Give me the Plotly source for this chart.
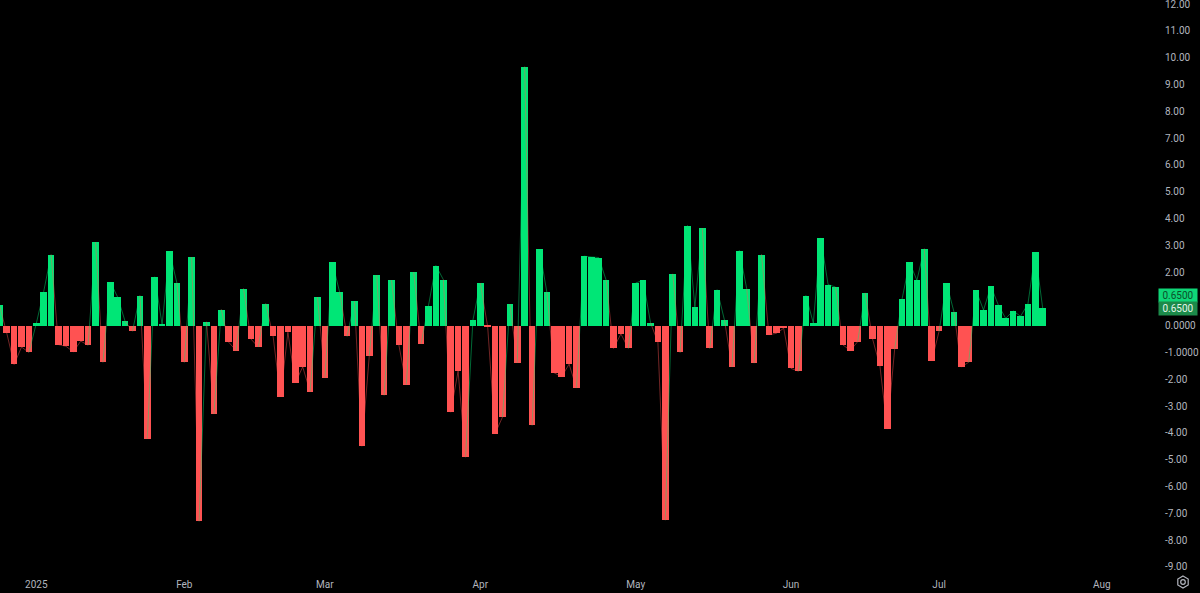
import math
import pandas as pd
import plotly.graph_objects as go

# ---- data (daily % change, one value per trading day starting 2024-12-24) ----
holidays = ["2024-12-25", "2025-01-01", "2025-01-09", "2025-01-20", "2025-02-17",
            "2025-04-18", "2025-05-26", "2025-06-19", "2025-07-04"]
values = [
    0.78, -0.27, -1.45, -0.80, -1.00, 0.08, 1.27, 2.65, -0.71, -0.77,
    -0.98, -0.58, -0.73, 3.11, -1.37, 1.62, 1.06, 0.16, -0.21, 1.12,
    -4.22, 1.82, 0.04, 2.77, 1.59, -1.37, 2.56, -7.30, 0.14, -3.30,
    0.60, -0.62, -0.93, 1.38, -0.50, -0.80, 0.82, -0.40, -2.66, -0.25,
    -2.14, -1.54, -2.46, 1.06, -1.94, 2.36, 1.24, -0.40, 0.90, -4.50,
    -1.12, 1.88, -2.60, 1.69, -0.73, -2.20, 2.00, -0.67, 0.75, 2.24,
    1.72, -3.23, -1.70, -4.91, 0.20, 1.59, -0.05, -4.03, -3.41, 0.80,
    -1.39, 9.66, -3.72, 2.84, 1.24, -1.77, -1.90, -1.44, -2.33, 2.59,
    2.56, 2.54, 1.70, -0.85, -0.31, -0.85, 1.59, 1.69, 0.11, -0.62,
    -7.26, 1.93, -1.00, 3.73, 0.70, 3.64, -0.85, 1.34, 0.20, -1.54,
    2.80, 1.38, -1.40, 2.65, -0.34, -0.29, -0.10, -1.60, -1.70, 1.12,
    0.10, 3.27, 1.53, 1.44, -0.72, -0.93, -0.60, 1.22, -0.49, -1.50,
    -3.86, -0.87, 1.00, 2.36, 1.69, 2.87, -1.32, -0.21, 1.59, 0.52,
    -1.54, -1.37, 1.31, 0.58, 1.47, 0.77, 0.27, 0.55, 0.35, 0.80,
    2.74, 0.65,
]
month_labels = ["2025", "Feb", "Mar", "Apr", "May", "Jun", "Jul", "Aug"]
y_tick_vals = [12, 11, 10, 9, 8, 7, 6, 5, 4, 3, 2, 0, -1, -2, -3, -4, -5, -6, -7, -8, -9]
y_tick_text = ["12.00", "11.00", "10.00", "9.00", "8.00", "7.00", "6.00", "5.00", "4.00",
               "3.00", "2.00", "0.0000", "-1.0000", "-2.00", "-3.00", "-4.00", "-5.00",
               "-6.00", "-7.00", "-8.00", "-9.00"]
last_label = "0.6500"

# ---- styles ----
GREEN = "#00E676"
RED = "#FF5252"
LINE_G = "rgba(0,230,118,0.45)"
LINE_R = "rgba(255,82,82,0.45)"
TEXT = "#b2b5be"
FONT = "Roboto"

dates = pd.bdate_range("2024-12-24", "2025-08-29", freq="C", holidays=holidays)
idx = list(range(len(values)))

# first trading bar of each month (for the time axis labels)
tick_pos = []
for m in range(1, 9):
    for i, d in enumerate(dates):
        if d.year == 2025 and d.month == m:
            tick_pos.append(i)
            break

colors = [GREEN if v >= 0 else RED for v in values]

# connecting line, each segment coloured by the bar it ends on
gx, gy, rx, ry = [], [], [], []
for j in range(1, len(values)):
    tx, ty = (gx, gy) if values[j] >= 0 else (rx, ry)
    tx += [idx[j - 1], idx[j], None]
    ty += [values[j - 1], values[j], None]

fig = go.Figure()
fig.add_trace(go.Bar(x=idx, y=values, marker=dict(color=colors, line=dict(width=0)),
                     width=0.88, hoverinfo="skip", showlegend=False))
fig.add_trace(go.Scatter(x=gx, y=gy, mode="lines", line=dict(color=LINE_G, width=1),
                         hoverinfo="skip", showlegend=False))
fig.add_trace(go.Scatter(x=rx, y=ry, mode="lines", line=dict(color=LINE_R, width=1),
                         hoverinfo="skip", showlegend=False))

# pixel geometry: plot area 1157 x 568, 7.4 px per bar, 26.8 px per unit
W, H = 1157, 568
px_per_bar = 7.4
x0 = 0.7 / px_per_bar
x1 = x0 + W / px_per_bar
px_per_unit = 26.8
zero_px = 325.6
y1 = zero_px / px_per_unit
y0 = -(H - zero_px) / px_per_unit

fig.update_layout(
    width=1200, height=593,
    margin=dict(l=0, r=1200 - W, t=0, b=593 - H, autoexpand=False),
    paper_bgcolor="#000000", plot_bgcolor="#000000",
    bargap=0,
    font=dict(family=FONT, size=10, color=TEXT),
    xaxis=dict(range=[x0, x1], tickvals=tick_pos, ticktext=month_labels,
               showgrid=False, zeroline=False, showline=False, ticks="",
               ticklabelstandoff=9, ticklabeloverflow="allow",
               tickfont=dict(size=10, color=TEXT, family=FONT)),
    yaxis=dict(range=[y0, y1], side="right", tickvals=y_tick_vals, ticktext=y_tick_text,
               showgrid=False, zeroline=False, showline=False, ticks="",
               ticklabelstandoff=7, ticklabeloverflow="allow",
               tickfont=dict(size=10, color=TEXT, family=FONT)),
)

# last-value labels on the price scale
fig.add_annotation(xref="paper", x=1, xshift=1, xanchor="left", y=values[-1], yref="y",
                   yshift=13, text=last_label, showarrow=False, bgcolor="#0fd577",
                   width=38, height=13, borderpad=0,
                   font=dict(size=10, color="#0b4f2a", family=FONT))
fig.add_annotation(xref="paper", x=1, xshift=1, xanchor="left", y=values[-1], yref="y",
                   text=last_label, showarrow=False, bgcolor="#1c8a4a",
                   width=38, height=13, borderpad=0,
                   font=dict(size=10, color="#e6f5ea", family=FONT))

# settings icon (hexagon with a ring) in the bottom-right corner
cx, cy, r = 1183, 582, 6.0
def P(px, py):
    return px / W, (H - py) / H
pts = [P(cx + r * math.cos(math.radians(a)), cy + r * math.sin(math.radians(a)))
       for a in range(-90, 270, 60)]
path = "M " + " L ".join(f"{a:.5f},{b:.5f}" for a, b in pts) + " Z"
fig.add_shape(type="path", xref="paper", yref="paper", path=path,
              line=dict(color=TEXT, width=1.2))
ax0, ay0 = P(cx - 2.3, cy - 2.3)
ax1, ay1 = P(cx + 2.3, cy + 2.3)
fig.add_shape(type="circle", xref="paper", yref="paper", x0=ax0, y0=ay0, x1=ax1, y1=ay1,
              line=dict(color=TEXT, width=1.2))

fig.write_html("out.html", config={"displayModeBar": False},
               post_script="document.body.style.margin='0px';")
